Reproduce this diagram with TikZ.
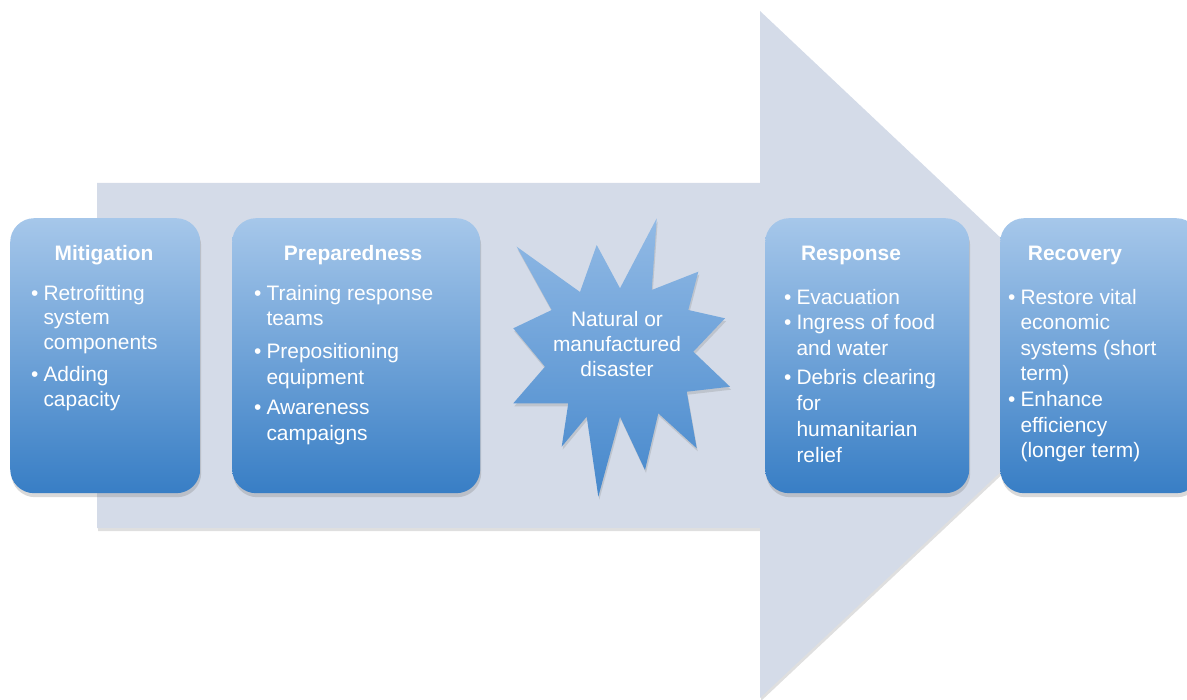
\documentclass[tikz,border=0pt]{standalone}
\usepackage{fontspec}
\setmainfont{Liberation Sans}
\usetikzlibrary{shadows}

\definecolor{arrowfill}{RGB}{212,219,232}
\definecolor{boxtop}{RGB}{166,199,234}
\definecolor{boxbot}{RGB}{56,126,197}
\definecolor{bursttop}{RGB}{146,186,229}
\definecolor{burstbot}{RGB}{70,136,204}

\tikzset{
  stagebox/.style={draw=none, rounded corners=24bp, inner sep=0pt,
    anchor=north west, top color=boxtop, bottom color=boxbot,
    drop shadow={opacity=0.3, shadow xshift=1bp, shadow yshift=-4bp}},
  stagehead/.style={text=white, anchor=base, inner sep=0pt,
    font=\fontsize{21}{25}\selectfont\bfseries},
  stagelist/.style={text=white, anchor=base west, inner sep=0pt, align=left},
}
\newcommand{\bul}{\textbullet}

\begin{document}
\begin{tikzpicture}[x=1bp,y=-1bp]
\useasboundingbox (0,0) rectangle (1187,700);

% background process arrow
\fill[arrowfill, drop shadow={opacity=0.25, shadow xshift=1bp, shadow yshift=-3bp}]
  (97,183) -- (760,183) -- (760,11) -- (1125,355) -- (760,698)
  -- (760,528) -- (97,528) -- cycle;

% stage boxes
\node[stagebox, minimum width=190bp, minimum height=275bp] (mitbox) at (10,218) {};
\node[stagebox, minimum width=248bp, minimum height=275bp] (prepbox) at (232,218) {};
\node[stagebox, minimum width=204bp, minimum height=275bp] (respbox) at (765,218) {};
\node[stagebox, minimum width=200bp, minimum height=275bp] (recbox) at (1000,218) {};

% disaster burst
\shade[top color=bursttop, bottom color=burstbot,
  drop shadow={opacity=0.25, shadow xshift=1bp, shadow yshift=-3bp}]
  (516.7,246.7) -- (580,292) -- (596.7,245) -- (620,288.3)
  -- (656.7,218.3) -- (651.7,290) -- (698.3,271.7) -- (688.3,310)
  -- (725,318.3) -- (693.3,351.7) -- (730,386.7) -- (686.7,391.7)
  -- (696.7,448.3) -- (658.3,413.3) -- (645,470) -- (620,416.7)
  -- (598.3,496.7) -- (586.7,416.7) -- (561.7,446.7) -- (568.3,403.3)
  -- (513.3,403.3) -- (545,366.7) -- (513.3,328.3) -- (551.7,310) -- cycle;
\node[text=white, align=center, inner sep=0pt, anchor=center,
  font=\fontsize{21}{25.5}\selectfont] (burst) at (617,344)
  {Natural or\\manufactured\\disaster};

% headings
\node[stagehead] (mithead)  at (104,260.5)  {Mitigation};
\node[stagehead] (prephead) at (353,260.5)  {Preparedness};
\node[stagehead] (resphead) at (851,260.5)  {Response};
\node[stagehead] (rechead)  at (1075,260.5) {Recovery};

% bullet lists
\node[stagelist, font=\fontsize{21}{25}\selectfont] (mitlist) at (31,300)
  {\begin{tabular}[t]{@{}l@{\hspace{5bp}}l@{}}
   \bul & Retrofitting\\ & system\\ & components\\[7bp]
   \bul & Adding\\ & capacity
   \end{tabular}};
\node[stagelist, font=\fontsize{21}{25.5}\selectfont] (preplist) at (254,300)
  {\begin{tabular}[t]{@{}l@{\hspace{5bp}}l@{}}
   \bul & Training response\\ & teams\\[8bp]
   \bul & Prepositioning\\ & equipment\\[5bp]
   \bul & Awareness\\ & campaigns
   \end{tabular}};
\node[stagelist, font=\fontsize{21}{26}\selectfont] (resplist) at (784,304)
  {\begin{tabular}[t]{@{}l@{\hspace{5bp}}l@{}}
   \bul & Evacuation\\
   \bul & Ingress of food\\ & and water\\[3bp]
   \bul & Debris clearing\\ & for\\ & humanitarian\\ & relief
   \end{tabular}};
\node[stagelist, font=\fontsize{21}{25.7}\selectfont] (reclist) at (1008,304)
  {\begin{tabular}[t]{@{}l@{\hspace{5bp}}l@{}}
   \bul & Restore vital\\ & economic\\ & systems (short\\ & term)\\
   \bul & Enhance\\ & efficiency\\ & (longer term)
   \end{tabular}};
\end{tikzpicture}
\end{document}
